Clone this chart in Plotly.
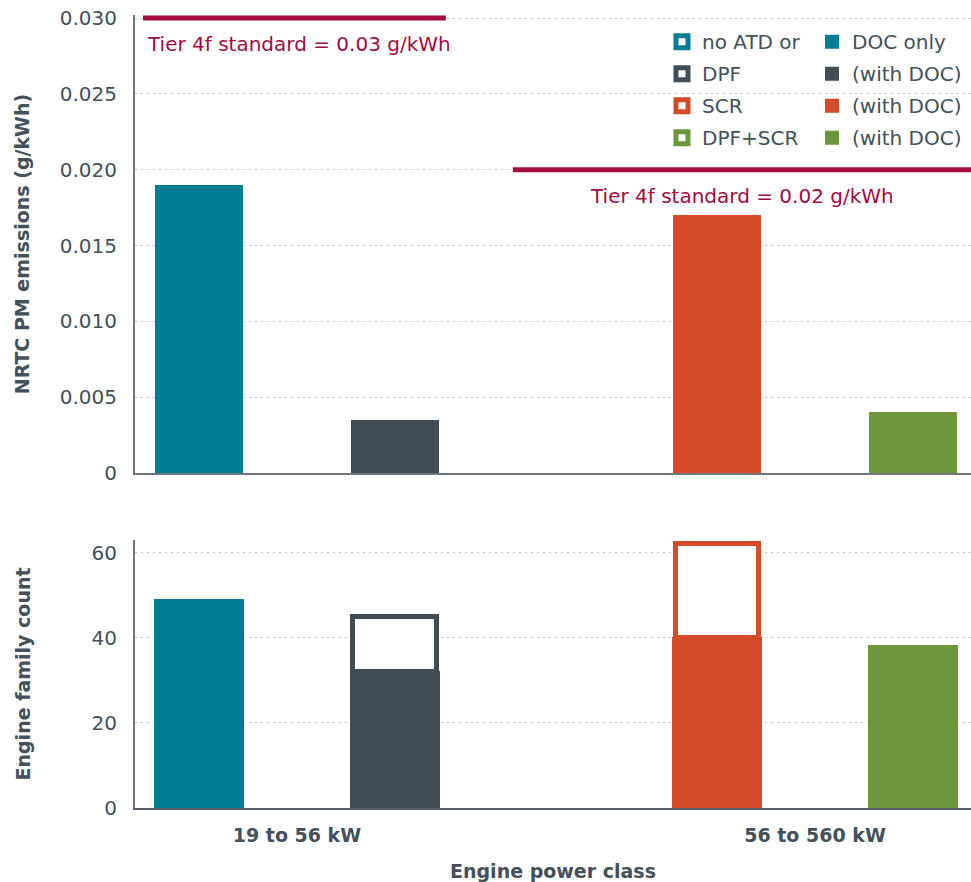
import plotly.graph_objects as go

# ---------------- data ----------------
power_classes = ["19 to 56 kW", "56 to 560 kW"]
technologies = ["no ATD or DOC only", "DPF", "SCR", "DPF+SCR"]
tech_class = [0, 0, 1, 1]            # index into power_classes
pm_emissions = [0.019, 0.0035, 0.017, 0.004]   # g/kWh
count_with_doc = [49, 32, 40, 38]    # solid part
count_without_doc = [0, 13, 22, 0]   # hollow part
tier_standards = [0.03, 0.02]        # g/kWh, per power class
tier_labels = ["Tier 4f standard = 0.03 g/kWh", "Tier 4f standard = 0.02 g/kWh"]
legend_hollow = ["no ATD or", "DPF", "SCR", "DPF+SCR"]
legend_filled = ["DOC only", "(with DOC)", "(with DOC)", "(with DOC)"]
pm_ticks = [0, 0.005, 0.010, 0.015, 0.020, 0.025, 0.030]
pm_ticktext = ["0", "0.005", "0.010", "0.015", "0.020", "0.025", "0.030"]
count_ticks = [0, 20, 40, 60]

# ---------------- style / layout ----------------
colors = ["#007d92", "#404c56", "#d54a29", "#6b963b"]
tier_color = "#a30b3f"
text_color = "#44505a"
axis_color = "#6f767c"
grid_color = "#c4c4c4"
FONT = "DejaVu Sans"
FS = 20

group_centers = [0.0, 2.645]
slot_offsets = [-0.5, 0.5]
bar_w = 0.45
line_w = 5
hollow_w = bar_w - line_w / 196.0
tier_extent = [(-0.786, 0.76), (1.102, 3.5)]
tier_label_pos = [(-0.776, "left"), (2.27, "center")]

slot = {}
xpos = []
for i, c in enumerate(tech_class):
    k = slot.get(c, 0)
    slot[c] = k + 1
    xpos.append(group_centers[c] + slot_offsets[k])

fig = go.Figure()

# top: PM emissions
for i, t in enumerate(technologies):
    fig.add_trace(go.Bar(
        x=[xpos[i]], y=[pm_emissions[i]], width=bar_w,
        marker=dict(color=colors[i], line=dict(width=0)),
        xaxis="x", yaxis="y", showlegend=False, name=t,
    ))

# bottom: counts (stacked)
for i, t in enumerate(technologies):
    fig.add_trace(go.Bar(
        x=[xpos[i]], y=[count_with_doc[i]], width=bar_w,
        marker=dict(color=colors[i], line=dict(width=2, color=colors[i])),
        xaxis="x2", yaxis="y2", name=legend_filled[i],
        legend="legend2", legendgroup="g%d" % i, legendrank=i + 1,
    ))
for i, t in enumerate(technologies):
    v = count_without_doc[i]
    fig.add_trace(go.Bar(
        x=[xpos[i]], y=[v if v > 0 else None], width=hollow_w,
        marker=dict(color="white", line=dict(width=line_w, color=colors[i])),
        xaxis="x2", yaxis="y2", name=legend_hollow[i],
        legend="legend", legendgroup="g%d" % i, legendrank=i + 1,
    ))

# tier standards lines
for j, val in enumerate(tier_standards):
    x0, x1 = tier_extent[j]
    fig.add_shape(type="line", xref="x", yref="y", x0=x0, x1=x1, y0=val, y1=val,
                  line=dict(color=tier_color, width=5), layer="above")
    lx, anc = tier_label_pos[j]
    fig.add_annotation(xref="x", yref="y", x=lx, y=val, text=tier_labels[j],
                       showarrow=False, xanchor=anc, yanchor="top", yshift=-12,
                       font=dict(family=FONT, size=FS, color=tier_color))

xrange = [-0.827, 3.441]
tickfont = dict(family=FONT, size=FS, color=text_color)
titlefont = dict(family=FONT, size=19, color=text_color, weight="bold")
griddash = "2px,4px"

fig.update_layout(
    width=971, height=882,
    margin=dict(l=135, r=0, t=15, b=74),
    plot_bgcolor="white", paper_bgcolor="white",
    barmode="stack", bargap=0,
    font=dict(family=FONT, color=text_color),
    xaxis=dict(domain=[0, 1], range=xrange, showticklabels=False, showgrid=False,
               showline=True, linecolor=axis_color, linewidth=2, zeroline=False,
               anchor="y"),
    yaxis=dict(domain=[0.4224, 1], range=[0, 0.0302], tickvals=pm_ticks, ticktext=pm_ticktext,
               showgrid=True, gridcolor=grid_color, griddash=griddash, gridwidth=1,
               showline=True, linecolor=axis_color, linewidth=2, zeroline=False,
               tickfont=tickfont, ticklabelstandoff=12, anchor="x",
               title=dict(text="NRTC PM emissions (g/kWh)", font=titlefont, standoff=25)),
    xaxis2=dict(domain=[0, 1], range=xrange, tickvals=group_centers, ticktext=power_classes,
                showgrid=False, showline=True, linecolor="#555e66", linewidth=2, zeroline=False,
                tickfont=dict(family=FONT, size=19, color=text_color, weight="bold"),
                ticklabelstandoff=9, anchor="y2",
                title=dict(text="Engine power class", font=titlefont, standoff=23)),
    yaxis2=dict(domain=[0, 0.338], range=[0, 63], tickvals=count_ticks,
                showgrid=True, gridcolor=grid_color, griddash=griddash, gridwidth=1,
                showline=True, linecolor=axis_color, linewidth=2, zeroline=False,
                tickfont=tickfont, ticklabelstandoff=12, anchor="x2",
                title=dict(text="Engine family count", font=titlefont, standoff=56)),
    legend=dict(x=(662 - 135) / 836, xanchor="left", y=0.991, yanchor="top",
                orientation="v", bgcolor="rgba(0,0,0,0)", tracegroupgap=3,
                traceorder="grouped", font=dict(family=FONT, size=FS, color=text_color)),
    legend2=dict(x=(812 - 135) / 836, xanchor="left", y=0.991, yanchor="top",
                 orientation="v", bgcolor="rgba(0,0,0,0)", tracegroupgap=3,
                 traceorder="grouped", font=dict(family=FONT, size=FS, color=text_color)),
)

fig.write_html("out.html", config={"displayModeBar": False},
               post_script="document.body.style.margin='0';")
